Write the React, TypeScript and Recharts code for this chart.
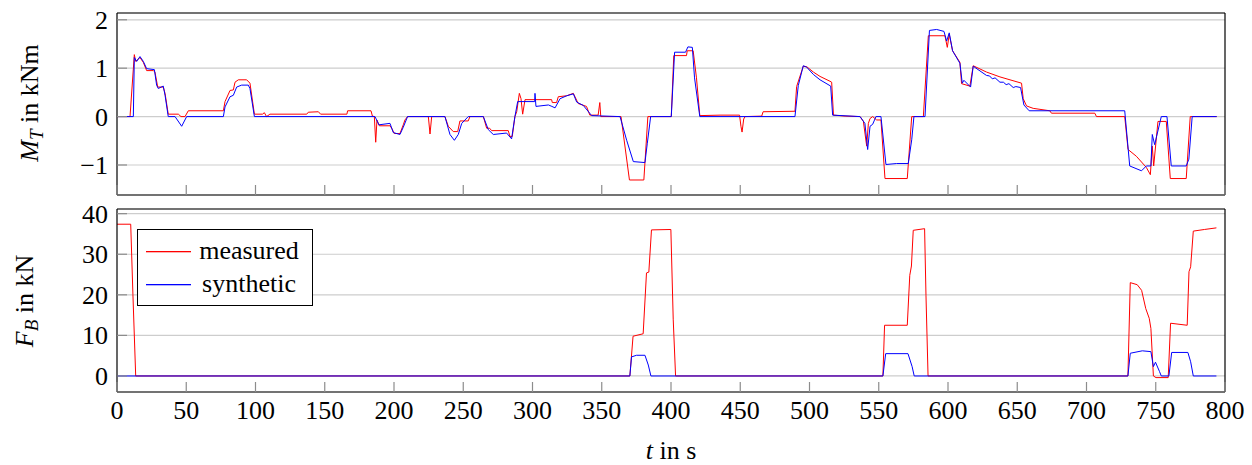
import { LineChart, Line, XAxis, YAxis, CartesianGrid, Legend } from "recharts";

const FONT = '"Liberation Serif", "Times New Roman", serif';
const TICK_LEN = 10;
const TICK_COLOR = "#8c8c8c";
const GRID_COLOR = "#cdcdcd";

const timeTicks = [0, 50, 100, 150, 200, 250, 300, 350, 400, 450, 500, 550, 600, 650, 700, 750, 800];
const torqueTicks = [-1, 0, 1, 2];
const forceTicks = [0, 10, 20, 30, 40];
const seriesNames = ["measured", "synthetic"];
const seriesColors = ["#ff0000", "#0000ff"];

// M_T in kNm, [t, value]
const torqueMeasured: [number, number][] = [
  [0, 0], [9.4, 0], [12.5, 1.28], [13.5, 1.14], [16.6, 1.22], [19, 1.12], [21.4, 0.95], [26.2, 0.95],
  [27.4, 0.92], [29.4, 0.61], [33.4, 0.61], [34.7, 0.48], [37, 0.05], [44.3, 0.05], [46.2, 0], [49.1, 0],
  [51.5, 0.12], [76.8, 0.12], [78, 0.31], [81.6, 0.54], [84, 0.55], [85.2, 0.71], [87.6, 0.76], [93.6, 0.76],
  [96, 0.69], [99.2, 0.05], [105, 0.05], [106.4, 0.08], [108, 0], [110.4, 0.05], [137, 0.05], [138.1, 0.09],
  [145.4, 0.1], [147, 0.05], [166, 0.05], [166.5, 0.12], [183.4, 0.12], [184.4, 0.01], [185.8, 0],
  [186.8, -0.53], [187.7, -0.07], [189.4, -0.19], [197.1, -0.19], [198.3, -0.24], [200.2, -0.35],
  [204.3, -0.35], [206.7, -0.17], [207.9, -0.07], [209.8, 0], [224.8, 0], [226, -0.36], [227.2, 0],
  [236.8, 0], [239.2, -0.2], [242.8, -0.31], [246, -0.31], [247.6, -0.09], [253.6, -0.09], [254.8, 0],
  [264.5, 0], [266.9, -0.24], [269, -0.24], [270.5, -0.29], [282.5, -0.29], [283.7, -0.41], [285.4, -0.41],
  [287.3, 0], [288.6, 0.1], [290.5, 0.48], [291.7, 0.37], [292.9, 0.05], [294.6, 0.35], [313.8, 0.35],
  [314.3, 0.29], [317.4, 0.29], [318.6, 0.41], [324.7, 0.43], [329.5, 0.48], [333, 0.27], [339, 0.21],
  [341.4, 0.03], [347.4, 0.03], [348.6, 0.29], [349.3, 0], [363.9, 0], [370, -1.31], [380.4, -1.31],
  [383.3, 0], [400.2, 0], [402, 1.26], [411.2, 1.26], [411.7, 1.36], [416, 1.36], [418.4, 0.8],
  [420.8, 0.02], [435.4, 0.03], [449.5, 0.03], [450.5, -0.2], [451.3, -0.32], [452.5, -0.05], [453.5, 0],
  [465.5, 0.01], [466.5, 0.1], [489.5, 0.11], [490.7, 0.62], [495.5, 1.04], [498, 1.03], [502.8, 0.92],
  [507.6, 0.83], [514.8, 0.73], [516, 0.71], [517.3, 0.03], [525.7, 0.01], [536.5, 0], [538.9, -0.1],
  [541.3, -0.61], [542.5, -0.14], [543.7, -0.04], [545.6, 0], [548.5, -0.07], [551.6, -0.07],
  [554.5, -1.28], [570.6, -1.28], [573.8, 0], [582.2, 0], [585.8, 1.67], [597.8, 1.67], [599.5, 1.43],
  [600.9, 1.7], [603.3, 1.36], [608.6, 1.12], [609.8, 0.68], [615.8, 0.63], [618.2, 1.05], [627.8, 0.92],
  [637.5, 0.82], [653.1, 0.69], [654.3, 0.37], [656.7, 0.22], [661.5, 0.17], [673.5, 0.12], [674.7, 0.07],
  [706, 0.07], [707.2, 0], [727.6, 0], [730, -0.68], [736, -0.82], [743.2, -1.05], [746.1, -1.2],
  [747.5, -0.61], [748.5, -1.02], [751.6, -0.1], [757.6, -0.1], [760.5, -1.28], [772, -1.28], [774.9, 0],
  [794, 0],
];

const torqueSynthetic: [number, number][] = [
  [0, 0], [11.8, 0], [12.5, 1.22], [14.2, 1.14], [16.6, 1.24], [19, 1.14], [21.4, 0.99], [27, 0.97],
  [28.6, 0.65], [29.8, 0.58], [33.4, 0.63], [34.7, 0.44], [37, 0], [41.9, 0], [46.7, -0.2], [50.3, 0],
  [76.8, 0], [78, 0.2], [81.6, 0.41], [84, 0.44], [86.4, 0.61], [90, 0.65], [94.8, 0.65], [96, 0.58],
  [99.2, 0], [186.3, 0], [189.1, -0.17], [197.1, -0.14], [199.5, -0.33], [204.3, -0.37], [206.7, -0.22],
  [209.8, 0], [236.8, 0], [240.4, -0.37], [243.6, -0.49], [246.4, -0.37], [248.9, -0.14], [253.6, 0],
  [264.5, 0], [268.1, -0.27], [271.7, -0.37], [281.3, -0.34], [284.9, -0.46], [287.3, 0], [289.3, 0.31],
  [301.6, 0.31], [301.8, 0.48], [302.5, 0.21], [311.5, 0.24], [314, 0.21], [316.3, 0.18], [319.9, 0.37],
  [324.7, 0.43], [329.5, 0.47], [331.9, 0.3], [336.7, 0.23], [342.7, 0.02], [363.2, 0], [368, -0.49],
  [372.8, -0.93], [381.2, -0.95], [382.9, -0.55], [385.3, 0], [400.2, 0], [402.6, 1.33], [410.5, 1.33],
  [412.2, 1.44], [415.4, 1.43], [417, 0.8], [420.8, 0], [489.5, 0], [491.9, 0.64], [495.5, 1.05],
  [498, 1.02], [502.8, 0.87], [507.6, 0.76], [515.3, 0.63], [516.7, 0.03], [536.5, 0], [540, -0.14],
  [542, -0.68], [543.7, -0.2], [545.6, -0.16], [548, 0], [551.6, 0], [555.2, -0.99], [562.9, -0.97],
  [571.3, -0.97], [573.8, -0.48], [575.4, 0], [583.4, 0], [586.6, 1.78], [591.8, 1.8], [597.1, 1.76],
  [599, 1.56], [600.9, 1.73], [603.3, 1.36], [608.6, 1.1], [610.3, 0.69], [611.5, 0.75], [616.3, 0.61],
  [618.2, 1.04], [627.8, 0.85], [630, 0.84], [632, 0.78], [634, 0.8], [637.5, 0.71], [640, 0.71],
  [642, 0.66], [644, 0.68], [647.1, 0.6], [649, 0.62], [652.4, 0.6], [654.8, 0.24], [658.6, 0.12],
  [727.6, 0.12], [731.2, -1.02], [739.7, -1.12], [743.2, -1.02], [746.5, -1.02], [747.5, -0.37],
  [749.2, -0.58], [754, 0], [758.1, 0], [761.2, -1.02], [772, -1.02], [773.9, -0.88], [776.3, 0], [794, 0],
];

// F_B in kN, [t, value]
const forceMeasured: [number, number][] = [
  [0, 37.4], [9.9, 37.4], [11.5, 20], [13.5, 0], [370.3, 0], [372.6, 9.8], [379.9, 10.4], [382.3, 25.4],
  [384, 25.6], [385.9, 36], [399.9, 36.1], [401.6, 14], [403.3, 0], [553, 0], [554.2, 12.5], [570.6, 12.5],
  [572.4, 24.8], [573.6, 27.1], [574.9, 35.9], [583.1, 36.3], [584.1, 19.9], [585.6, 0], [729.9, 0],
  [731.6, 23], [736.6, 22.5], [739.8, 21.1], [742.8, 16.6], [745.3, 14.2], [746.5, 11.7], [748.3, 0],
  [750.2, -0.4], [759, -0.4], [760.7, 13], [772.7, 12.5], [774, 25.7], [775.2, 26.9], [777.1, 35.7],
  [785.1, 36.1], [793.8, 36.5],
];

const forceSynthetic: [number, number][] = [
  [0, 0], [370.3, 0], [371.5, 4.7], [375.1, 5.1], [381.2, 5.1], [383.6, 2.7], [385.5, 0], [553, 0],
  [555, 5.5], [571.1, 5.5], [574.1, 2.3], [575.6, 0], [729.9, 0], [731.6, 5.6], [740.3, 6.2], [746.5, 6],
  [748.3, 2.3], [749.8, 3.4], [752.7, 1.1], [754, 0], [759.5, 0], [761.5, 5.8], [773.2, 5.8], [775.2, 3.5],
  [777.1, 0], [793.8, 0],
];

const toRows = (pts: [number, number][]) => pts.map(([t, v]) => ({ t, v }));

const fmt = (v: number) => (v < 0 ? `\u2212${-v}` : `${v}`);

function BottomTick(props: any) {
  const { x, y, payload, label } = props;
  return (
    <g>
      <line x1={x} y1={y} x2={x} y2={y - TICK_LEN} stroke={TICK_COLOR} strokeWidth={1.2} />
      {label && (
        <text x={x} y={y + 27} textAnchor="middle" fontSize={26} fontFamily={FONT} fill="#000">
          {payload.value}
        </text>
      )}
    </g>
  );
}

function TopTick(props: any) {
  const { x, y } = props;
  return <line x1={x} y1={y} x2={x} y2={y + TICK_LEN} stroke={TICK_COLOR} strokeWidth={1.2} />;
}

function LeftTick(props: any) {
  const { x, y, payload } = props;
  return (
    <g>
      <line x1={x} y1={y} x2={x + TICK_LEN} y2={y} stroke={TICK_COLOR} strokeWidth={1.2} />
      <text x={x - 9} y={y + 9} textAnchor="end" fontSize={26} fontFamily={FONT} fill="#000">
        {fmt(payload.value)}
      </text>
    </g>
  );
}

function RightTick(props: any) {
  const { x, y } = props;
  return <line x1={x} y1={y} x2={x - TICK_LEN} y2={y} stroke={TICK_COLOR} strokeWidth={1.2} />;
}

// pgfplots-style legend box
function LegendBox() {
  return (
    <svg width={177} height={78} style={{ display: "block" }}>
      <rect x={0.5} y={0.5} width={175} height={76} fill="#fff" stroke="#000" strokeWidth={1} />
      {seriesNames.map((name, i) => (
        <g key={name}>
          <rect x={9} y={22 + i * 33} width={45} height={1.3} fill={seriesColors[i]} />
          <text x={112} y={30 + i * 32.6} textAnchor="middle" fontSize={26} fontFamily={FONT} fill="#000">
            {name}
          </text>
        </g>
      ))}
    </svg>
  );
}

const axisLine = { stroke: "#000", strokeWidth: 1.2 };

export default function App() {
  return (
    <div style={{ position: "absolute", left: 0, top: 0, width: 1252, height: 465, background: "#fff" }}>
      <div style={{ position: "absolute", left: 0, top: 0 }}>
        <LineChart width={1252} height={200} margin={{ top: 12, right: 26, bottom: 4, left: 0 }}>
          <CartesianGrid vertical={false} stroke={GRID_COLOR} strokeWidth={1.2} />
          <XAxis dataKey="t" type="number" domain={[0, 800]} ticks={timeTicks} interval={0} height={1}
            tickSize={0} tickMargin={0} axisLine={axisLine} tickLine={false} allowDataOverflow
            tick={(p: any) => <BottomTick {...p} label={false} />} />
          <XAxis xAxisId="top" orientation="top" dataKey="t" type="number" domain={[0, 800]} ticks={timeTicks}
            interval={0} height={1} tickSize={0} tickMargin={0} axisLine={axisLine} tickLine={false}
            tick={(p: any) => <TopTick {...p} />} />
          <YAxis type="number" domain={[-1.62, 2.14]} ticks={torqueTicks} interval={0} width={117} tickSize={0}
            tickMargin={0} axisLine={axisLine} tickLine={false} allowDataOverflow
            tick={(p: any) => <LeftTick {...p} />} />
          <YAxis yAxisId="r" orientation="right" type="number" domain={[-1.62, 2.14]} ticks={torqueTicks}
            interval={0} width={1} tickSize={0} tickMargin={0} axisLine={axisLine} tickLine={false}
            tick={(p: any) => <RightTick {...p} />} />
          <Line data={toRows(torqueMeasured)} dataKey="v" name={seriesNames[0]} type="linear" stroke={seriesColors[0]}
            strokeWidth={1} dot={false} activeDot={false} isAnimationActive={false} />
          <Line data={toRows(torqueSynthetic)} dataKey="v" name={seriesNames[1]} type="linear" stroke={seriesColors[1]}
            strokeWidth={1} dot={false} activeDot={false} isAnimationActive={false} />
        </LineChart>
      </div>
      <div style={{ position: "absolute", left: 0, top: 200 }}>
        <LineChart width={1252} height={265} margin={{ top: 8, right: 26, bottom: 0, left: 0 }}>
          <CartesianGrid vertical={false} stroke={GRID_COLOR} strokeWidth={1.2} />
          <XAxis dataKey="t" type="number" domain={[0, 800]} ticks={timeTicks} interval={0} height={73}
            tickSize={0} tickMargin={0} axisLine={axisLine} tickLine={false} allowDataOverflow
            tick={(p: any) => <BottomTick {...p} label />} />
          <XAxis xAxisId="top" orientation="top" dataKey="t" type="number" domain={[0, 800]} ticks={timeTicks}
            interval={0} height={1} tickSize={0} tickMargin={0} axisLine={axisLine} tickLine={false}
            tick={(p: any) => <TopTick {...p} />} />
          <YAxis type="number" domain={[-3.95, 41.15]} ticks={forceTicks} interval={0} width={117} tickSize={0}
            tickMargin={0} axisLine={axisLine} tickLine={false} allowDataOverflow
            tick={(p: any) => <LeftTick {...p} />} />
          <YAxis yAxisId="r" orientation="right" type="number" domain={[-3.95, 41.15]} ticks={forceTicks}
            interval={0} width={1} tickSize={0} tickMargin={0} axisLine={axisLine} tickLine={false}
            tick={(p: any) => <RightTick {...p} />} />
          <Line data={toRows(forceMeasured)} dataKey="v" name={seriesNames[0]} type="linear" stroke={seriesColors[0]}
            strokeWidth={1} dot={false} activeDot={false} isAnimationActive={false} />
          <Line data={toRows(forceSynthetic)} dataKey="v" name={seriesNames[1]} type="linear" stroke={seriesColors[1]}
            strokeWidth={1} dot={false} activeDot={false} isAnimationActive={false} />
          <Legend layout="vertical" align="center" verticalAlign="middle" content={() => <LegendBox />}
            wrapperStyle={{ position: "absolute", left: 137, top: 29, width: 177, height: 78 }} />
        </LineChart>
      </div>
      <svg width={1252} height={465} style={{ position: "absolute", left: 0, top: 0, pointerEvents: "none" }}>
        <text transform="translate(38,103) rotate(-90)" textAnchor="middle" fontSize={26} fontFamily={FONT} fill="#000">
          <tspan fontStyle="italic">M</tspan>
          <tspan fontStyle="italic" fontSize={19} dy={5}>T</tspan>
          <tspan dy={-5}> in kNm</tspan>
        </text>
        <text transform="translate(33,301) rotate(-90)" textAnchor="middle" fontSize={26} fontFamily={FONT} fill="#000">
          <tspan fontStyle="italic">F</tspan>
          <tspan fontStyle="italic" fontSize={19} dy={5}>B</tspan>
          <tspan dy={-5}> in kN</tspan>
        </text>
        <text x={671} y={459} textAnchor="middle" fontSize={26} fontFamily={FONT} fill="#000">
          <tspan fontStyle="italic">t</tspan>
          <tspan> in s</tspan>
        </text>
      </svg>
    </div>
  );
}
